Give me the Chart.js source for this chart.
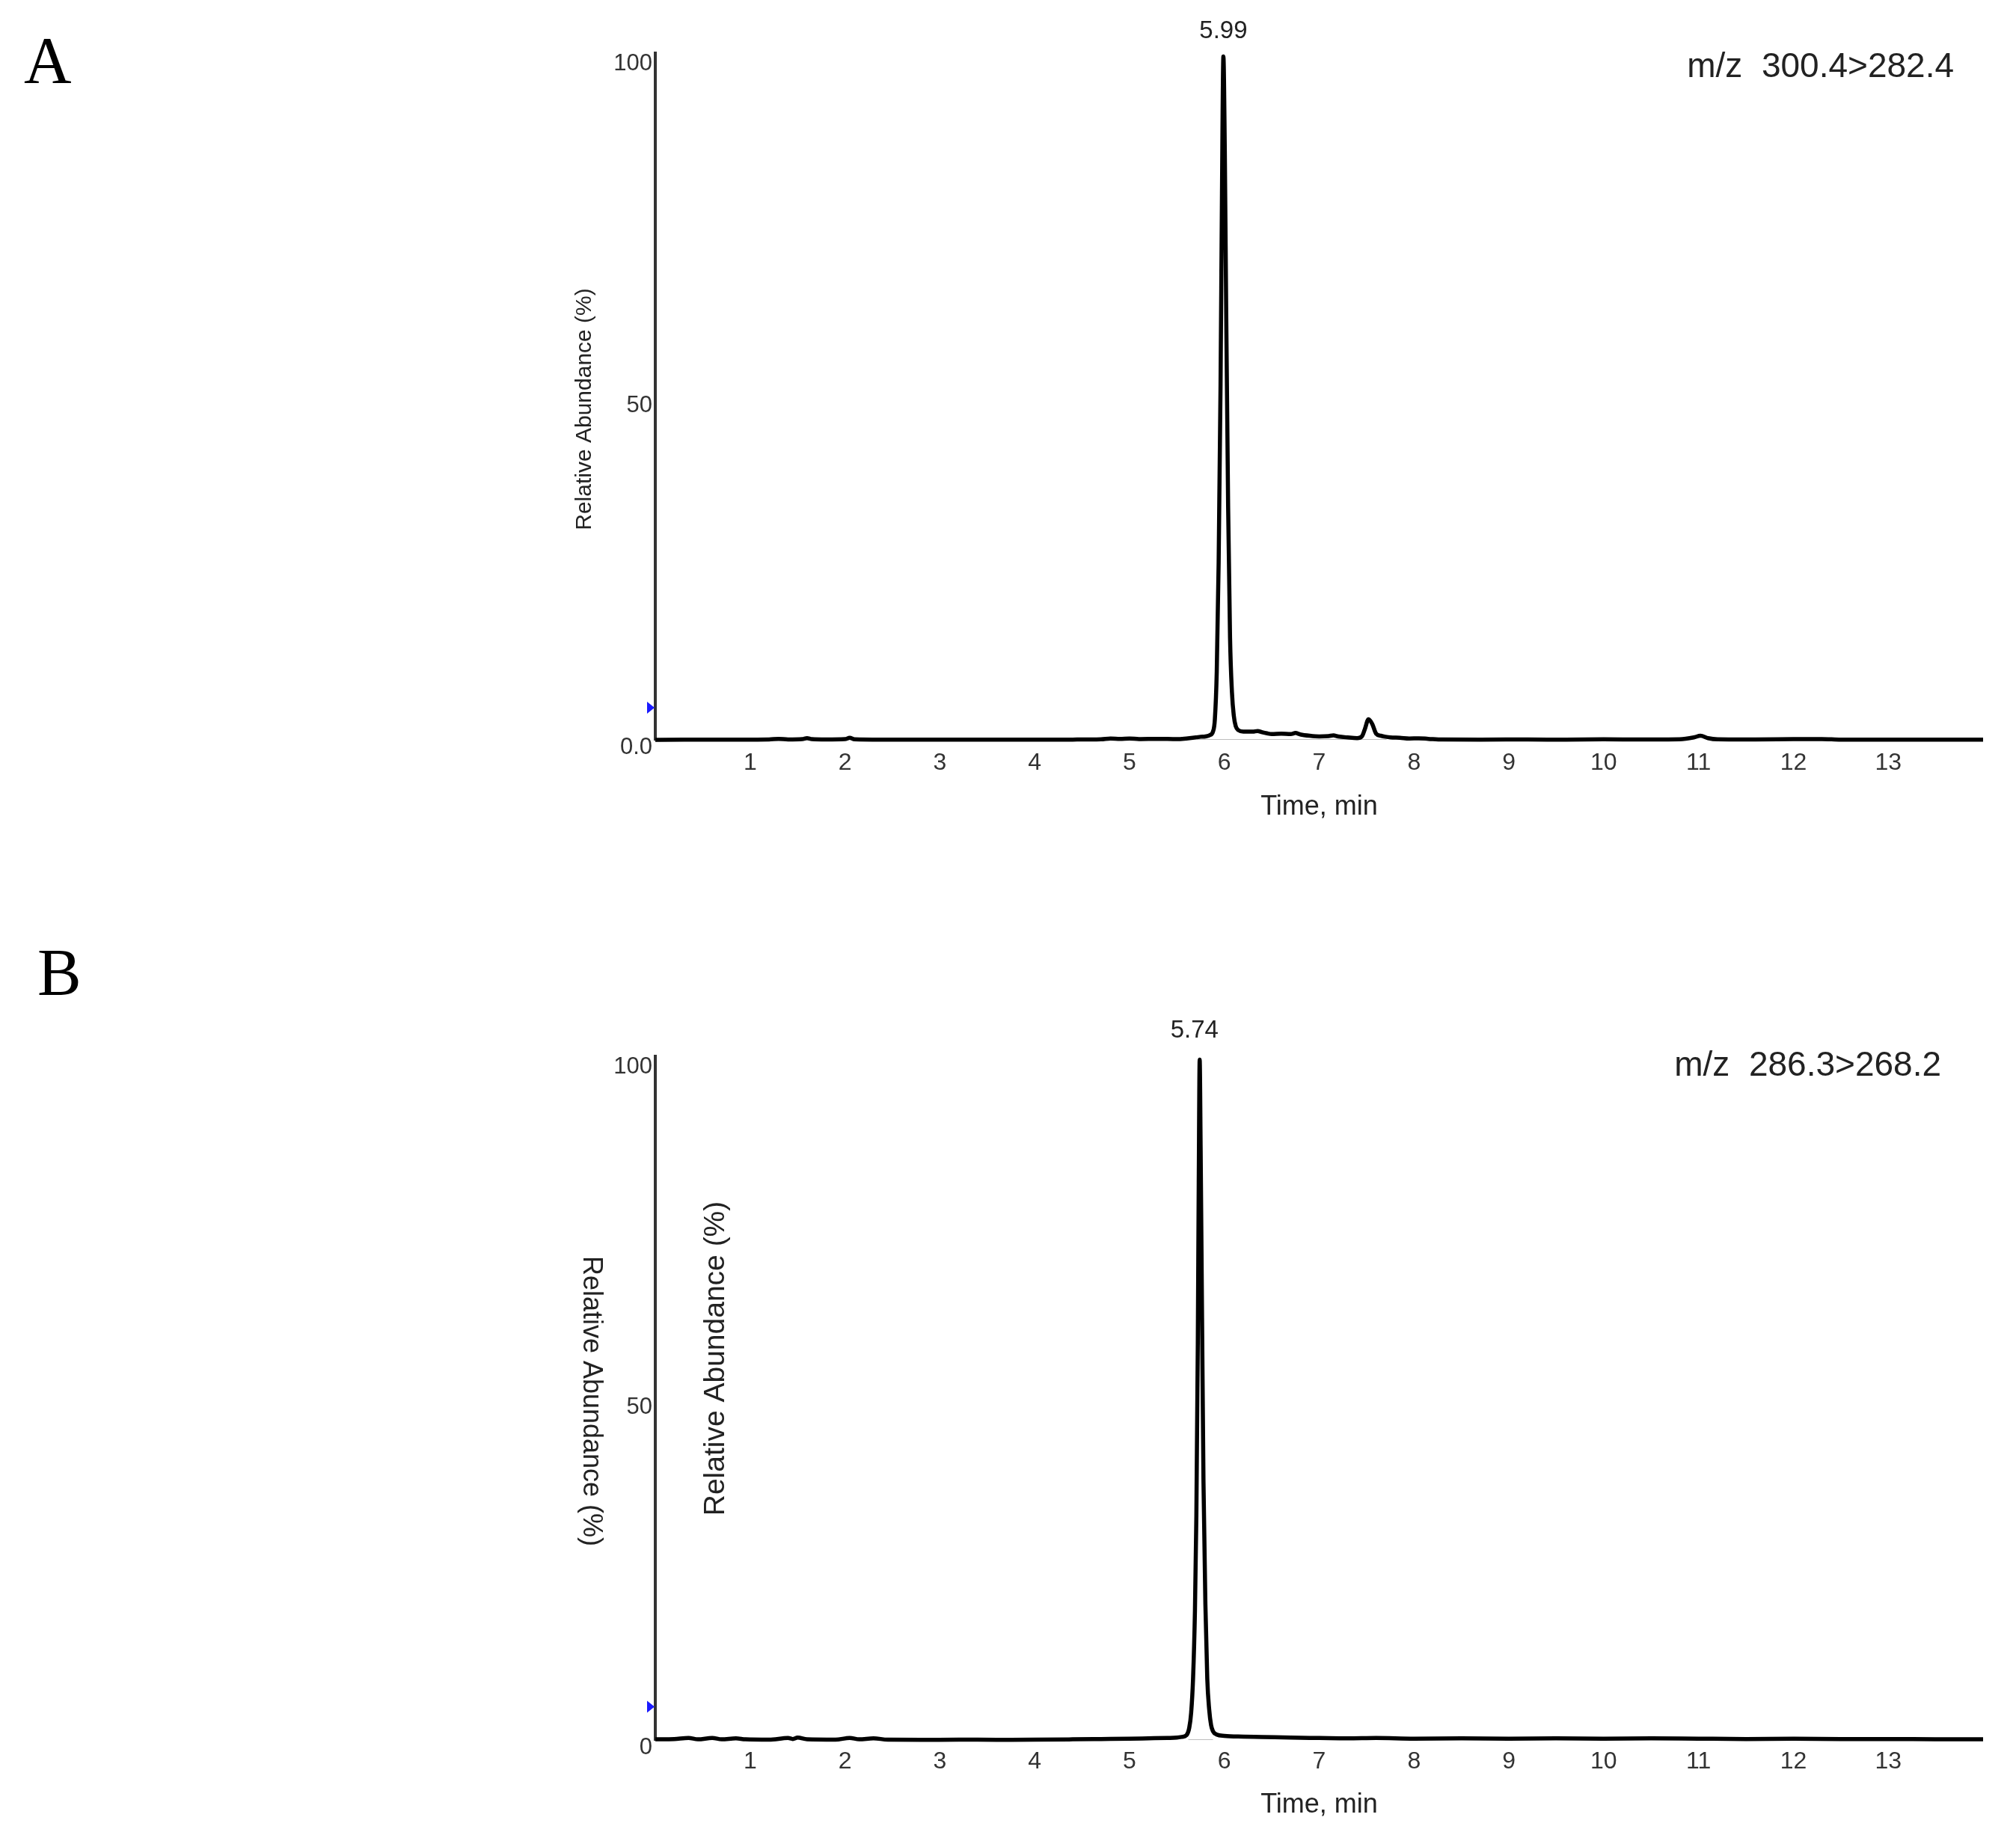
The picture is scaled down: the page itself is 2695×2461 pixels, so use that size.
<!DOCTYPE html>
<html>
<head>
<meta charset="utf-8">
<script src="https://cdn.jsdelivr.net/npm/chart.js@4.4.1/dist/chart.umd.min.js"></script>
<style>
  html, body { margin: 0; padding: 0; background: #fff; }
  #pagina { position: relative; width: 2695px; height: 2461px; }
  .panel { position: absolute; left: 0; width: 2695px; }
  .letra { position: absolute; font-family: "Liberation Serif", serif; font-size: 88px; line-height: 1; color: #000; }
</style>
</head>
<body>
<div id="pagina">
  <div class="letra" style="left:32px; top:37px;">A</div>
  <div class="letra" style="left:50px; top:1256px;">B</div>
  <div class="panel" style="top:0; height:1230px;"><canvas id="graficoA"></canvas></div>
  <div class="panel" style="top:1230px; height:1231px;"><canvas id="graficoB"></canvas></div>
</div>
<script>
// Cromatograma A: m/z 300.4>282.4
var tiempoA = [0, 0.3, 0.6, 0.9, 1.2, 1.3, 1.4, 1.55, 1.6, 1.65, 1.8, 2.0, 2.05, 2.1, 2.4, 2.8, 3.2, 3.6, 4.0, 4.4, 4.7, 4.8, 4.9, 5.0, 5.1, 5.3, 5.5, 5.6, 5.7, 5.75, 5.8, 5.85,
  5.88, 5.9, 5.92, 5.94, 5.96, 5.975, 5.99, 6.005, 6.02, 6.04, 6.06, 6.08, 6.1, 6.12,
  6.15, 6.2, 6.3, 6.35, 6.4, 6.45, 6.5, 6.6, 6.7, 6.75, 6.8, 6.9, 7.0, 7.1, 7.15, 7.2, 7.3, 7.4, 7.45, 7.48, 7.52, 7.56, 7.6, 7.65, 7.7, 7.75, 7.85, 7.95, 8.05, 8.15,
  8.3, 8.7, 9.2, 9.6, 10.0, 10.4, 10.8, 10.95, 11.02, 11.1, 11.2, 11.6, 12.0, 12.3, 12.5, 13.0, 13.5, 14.0];
var abundanciaA = [0, 0.02, 0.03, 0.02, 0.05, 0.15, 0.05, 0.1, 0.25, 0.1, 0.05, 0.1, 0.3, 0.08, 0.03, 0.02, 0.03, 0.02, 0.03, 0.04, 0.08, 0.2, 0.15, 0.2, 0.12, 0.15, 0.1, 0.2, 0.35, 0.45, 0.5, 0.7,
  1.2, 3.0, 10, 26, 52, 80, 100, 86, 62, 34, 15, 7, 3.5, 2.0,
  1.4, 1.2, 1.2, 1.3, 1.1, 0.95, 0.85, 0.9, 0.85, 1.0, 0.8, 0.6, 0.5, 0.55, 0.65, 0.5, 0.35, 0.25, 0.5, 1.5, 3.0, 2.3, 0.9, 0.6, 0.45, 0.35, 0.3, 0.2, 0.22, 0.15,
  0.05, 0.03, 0.05, 0.03, 0.08, 0.05, 0.08, 0.35, 0.6, 0.25, 0.08, 0.05, 0.1, 0.12, 0.03, 0.02, 0.02, 0.02];
var lineaBaseA = [5.71, 7.71];
var picoA = 5.99;

// Cromatograma B: m/z 286.3>268.2
var tiempoB = [0, 0.2, 0.35, 0.45, 0.6, 0.7, 0.85, 0.95, 1.2, 1.4, 1.45, 1.5, 1.6, 1.9, 2.05, 2.15, 2.3, 2.45, 2.8, 3.2, 3.6, 4.0, 4.4, 4.7, 5.0, 5.2, 5.4, 5.5, 5.55, 5.6,
  5.63, 5.65, 5.67, 5.69, 5.705, 5.72, 5.73, 5.74, 5.75, 5.765, 5.78, 5.8, 5.82, 5.84, 5.86, 5.88,
  5.92, 6.0, 6.2, 6.4, 6.7, 7.0, 7.3, 7.6, 8.0, 8.5, 9.0, 9.5, 10.0, 10.5, 11.0, 11.5, 12.0, 12.5, 13.0, 13.5, 14.0];
var abundanciaB = [0.1, 0.15, 0.3, 0.1, 0.3, 0.1, 0.25, 0.1, 0.05, 0.3, 0.15, 0.35, 0.1, 0.05, 0.3, 0.1, 0.25, 0.05, 0.03, 0.05, 0.04, 0.05, 0.1, 0.15, 0.2, 0.25, 0.3, 0.35, 0.45, 0.7,
  1.8, 4.0, 9, 19, 33, 58, 82, 100, 87, 62, 38, 20, 9, 4.5, 2.2, 1.3,
  0.8, 0.6, 0.5, 0.45, 0.35, 0.3, 0.25, 0.3, 0.2, 0.25, 0.2, 0.25, 0.2, 0.25, 0.2, 0.15, 0.2, 0.15, 0.15, 0.1, 0.1];
var lineaBaseB = [5.62, 5.88];
var picoB = 5.74;

var marcaA = 4.7;
var marcaB = 4.9;
var ticksY = [0, 50, 100];
var etiquetasYA = ['0.0', '50', '100'];
var etiquetasYB = ['0', '50', '100'];
var etiquetasX = ['', '1', '2', '3', '4', '5', '6', '7', '8', '9', '10', '11', '12', '13', ''];

function aPuntos(xs, ys) {
    return xs.map(function (t, i) { return { x: t, y: ys[i] }; });
}

// textos extra: pico, transicion m/z, marcador azul y titulos del eje Y
var textosPlugin = {
    id: 'textos',
    afterDraw: function (chart, args, opts) {
        var ctx = chart.ctx;
        var area = chart.chartArea;
        var sx = chart.scales.x, sy = chart.scales.y;
        ctx.save();
        ctx.fillStyle = '#222';
        ctx.textAlign = 'center';
        ctx.textBaseline = 'middle';
        ctx.font = '33px "Liberation Sans", Arial, sans-serif';
        ctx.fillText(opts.pico.toFixed(2), sx.getPixelForValue(opts.pico) + opts.dxPico, area.top + opts.dyPico);

        ctx.font = '46px "Liberation Sans", Arial, sans-serif';
        ctx.textAlign = 'right';
        ctx.fillText(opts.transicion, area.right - opts.dxMz, area.top + opts.dyMz);

        var ym = sy.getPixelForValue(opts.marca);
        ctx.fillStyle = '#1a1aff';
        ctx.beginPath();
        ctx.moveTo(area.left - 11, ym - 8);
        ctx.lineTo(area.left - 11, ym + 8);
        ctx.lineTo(area.left - 1, ym);
        ctx.closePath();
        ctx.fill();

        (opts.titulos || []).forEach(function (t) {
            ctx.save();
            ctx.fillStyle = '#222';
            ctx.font = t.size + 'px "Liberation Sans", Arial, sans-serif';
            ctx.textAlign = 'center';
            ctx.textBaseline = 'middle';
            ctx.translate(t.x, t.y);
            ctx.rotate(t.rot);
            ctx.fillText('Relative Abundance (%)', 0, 0);
            ctx.restore();
        });
        ctx.restore();
    }
};

function crearGrafico(id, tiempos, valores, base, etiquetasY, cfg) {
    var ctx = document.getElementById(id).getContext('2d');
    return new Chart(ctx, {
        type: 'line',
        data: {
            datasets: [{
                data: aPuntos(base, [0, 0]),
                borderColor: '#bdbdbd',
                borderWidth: 2,
                pointRadius: 0,
                order: 1
            }, {
                data: aPuntos(tiempos, valores),
                borderColor: '#000',
                borderWidth: 5.5,
                pointRadius: 0,
                cubicInterpolationMode: 'monotone',
                clip: false,
                order: 0
            }]
        },
        options: {
            responsive: true,
            maintainAspectRatio: false,
            devicePixelRatio: 1,
            animation: false,
            layout: { padding: { left: 764, right: 44, top: cfg.top, bottom: cfg.bottom } },
            plugins: {
                legend: { display: false },
                tooltip: { enabled: false },
                textos: cfg.textos
            },
            scales: {
                x: {
                    type: 'linear',
                    min: 0,
                    max: 14,
                    grid: { display: false, drawTicks: false },
                    border: { display: false },
                    ticks: {
                        stepSize: 1,
                        autoSkip: false,
                        maxRotation: 0,
                        padding: cfg.padX,
                        color: '#333',
                        font: { family: 'Liberation Sans', size: 32 },
                        callback: function (v) { return etiquetasX[v] || ''; }
                    },
                    title: {
                        display: true,
                        text: 'Time, min',
                        color: '#222',
                        padding: 0,
                        font: { family: 'Liberation Sans', size: 36 }
                    },
                    afterFit: function (s) { s.height = cfg.altoX; }
                },
                y: {
                    min: 0,
                    max: 100.5,
                    grid: { display: false, drawTicks: false },
                    border: { display: true, color: '#333', width: 4 },
                    afterBuildTicks: function (s) {
                        s.ticks = ticksY.map(function (v) { return { value: v }; });
                    },
                    ticks: {
                        padding: 4,
                        labelOffset: 10,
                        color: '#333',
                        font: { family: 'Liberation Sans', size: 31 },
                        callback: function (v) { return etiquetasY[ticksY.indexOf(v)]; }
                    },
                    afterFit: function (s) { s.width = 112; }
                }
            }
        },
        plugins: [textosPlugin]
    });
}

crearGrafico('graficoA', tiempoA, abundanciaA, lineaBaseA, etiquetasYA, {
    top: 71, bottom: 129.4, altoX: 111.6, padX: 12,
    textos: {
        pico: picoA, dxPico: 0, dyPico: -29, transicion: 'm/z  300.4>282.4', dxMz: 39, dyMz: 19, marca: marcaA,
        titulos: [
            { x: 782, y: 547, rot: -Math.PI / 2, size: 30 }
        ]
    }
});

crearGrafico('graficoB', tiempoB, abundanciaB, lineaBaseB, etiquetasYB, {
    top: 182, bottom: 26.4, altoX: 108.6, padX: 10,
    textos: {
        pico: picoB, dxPico: -7, dyPico: -34, transicion: 'm/z  286.3>268.2', dxMz: 56, dyMz: 13, marca: marcaB,
        titulos: [
            { x: 790, y: 643, rot: Math.PI / 2, size: 36 },
            { x: 957, y: 586, rot: -Math.PI / 2, size: 39 }
        ]
    }
});
</script>
</body>
</html>
